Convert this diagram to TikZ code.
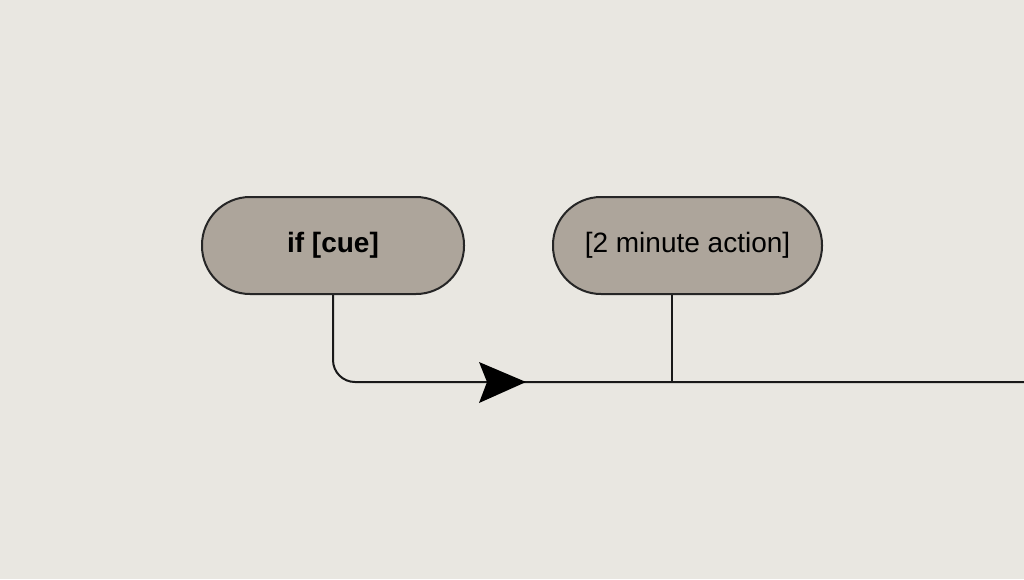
\documentclass[tikz,border=0pt]{standalone}
\usepackage{fontspec}
\setmainfont{Liberation Sans}
\begin{document}
\begin{tikzpicture}[x=1pt,y=-1pt,
  pill/.style={draw=black!85,line width=2pt,fill=pillfill,rounded corners=48pt,minimum height=97pt,inner sep=0pt,font=\fontsize{28}{32}\selectfont},
  conn/.style={line width=2pt,draw=black!90}]
\definecolor{bg}{HTML}{E9E7E1}
\definecolor{pillfill}{HTML}{ADA59B}
\fill[bg] (0,0) rectangle (1024,579);
\useasboundingbox (0,0) rectangle (1024,579);
\node[pill,minimum width=262pt] (a) at (333,245.5) {\bfseries if [cue]};
\node[pill,minimum width=269pt] (b) at (687.5,245.5) {[2 minute action]};
\coordinate (e) at (1024,382);
\coordinate (j) at (672,382);
\draw[conn,rounded corners=22pt] (a.south) -- (333,382) -- (e);
\draw[conn] (j |- b.south) -- (j);
\fill[black] (526,382) -- (479,362) -- (487,382) -- (479,403) -- cycle;
\end{tikzpicture}
\end{document}
